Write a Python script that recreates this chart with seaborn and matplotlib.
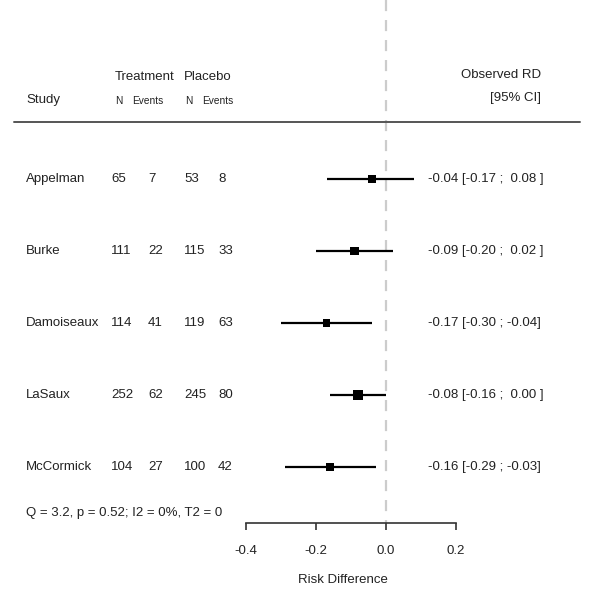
import numpy as np
import pandas as pd
import seaborn as sns
import matplotlib.pyplot as plt

# study data
studies = ['Appelman', 'Burke', 'Damoiseaux', 'LaSaux', 'McCormick']
trt_n = [65, 111, 114, 252, 104]
trt_events = [7, 22, 41, 62, 27]
pla_n = [53, 115, 119, 245, 100]
pla_events = [8, 33, 63, 80, 42]
rd = [-0.04, -0.09, -0.17, -0.08, -0.16]
ci_low = [-0.17, -0.20, -0.30, -0.16, -0.29]
ci_high = [0.08, 0.02, -0.04, 0.00, -0.03]
weight = [0.16, 0.19, 0.15, 0.36, 0.14]   # approx. inverse-variance weights
xticks = [-0.4, -0.2, 0.0, 0.2]
het_text = 'Q = 3.2, p = 0.52; I2 = 0%, T2 = 0'

df = pd.DataFrame({'study': studies, 'row': range(len(studies)),
                   'rd': rd, 'lo': ci_low, 'hi': ci_high, 'w': weight})

sns.set_style('white')
plt.rcParams['font.family'] = ['Liberation Sans', 'DejaVu Sans']
txt_col = '#222222'
fs = 9.5

W, H = 600, 605
fig = plt.figure(figsize=(W / 100, H / 100), dpi=100)
ax = fig.add_axes([0, 0, 1, 1])

# pixel helpers -> data coords
px = lambda p: (p - 386) / 350
py = lambda p: (p - 179) / 72
ax.set_xlim(px(0), px(W))
ax.set_ylim(py(H), py(0))

# reference line at zero
ax.plot([0, 0], [py(0), py(523)], color='#cccccc', lw=1.6, dashes=(5, 4), zorder=1)

# confidence intervals and point estimates
ax.hlines(df['row'], df['lo'], df['hi'], color='black', lw=1.6, zorder=2)
sns.scatterplot(data=df, x='rd', y='row', size='w', sizes=(28, 52), marker='s',
                color='black', edgecolor='black', linewidth=0, legend=False, ax=ax, zorder=3)

# axis
for s in ['top', 'right', 'left']:
    ax.spines[s].set_visible(False)
ax.spines['bottom'].set_position(('data', py(523)))
ax.spines['bottom'].set_bounds(xticks[0], xticks[-1])
ax.spines['bottom'].set_color('#333333')
ax.spines['bottom'].set_linewidth(1.2)
ax.set_xticks(xticks)
ax.set_xticklabels([f'{t:.1f}' for t in xticks])
ax.tick_params(axis='x', direction='out', length=5, width=1.2, color='#333333',
               pad=10.5, labelsize=fs, labelcolor=txt_col, bottom=True)
ax.set_yticks([])
ax.set_xlabel('')
ax.set_ylabel('')

# columns
for i, r in df.iterrows():
    y = r['row']
    ax.text(px(26), y, r['study'], fontsize=fs, color=txt_col, va='center')
    ax.text(px(111), y, str(trt_n[i]), fontsize=fs, color=txt_col, va='center')
    ax.text(px(148), y, str(trt_events[i]), fontsize=fs, color=txt_col, va='center')
    ax.text(px(184), y, str(pla_n[i]), fontsize=fs, color=txt_col, va='center')
    ax.text(px(218), y, str(pla_events[i]), fontsize=fs, color=txt_col, va='center')
    hi = f' {r["hi"]:.2f} ' if r['hi'] >= 0 else f'{r["hi"]:.2f}'
    ax.text(px(428), y, f'{r["rd"]:.2f} [{r["lo"]:.2f} ; {hi}]', fontsize=fs,
            color=txt_col, va='center')

# headers
ax.text(px(115), py(77), 'Treatment', fontsize=fs, color=txt_col, va='center')
ax.text(px(184), py(77), 'Placebo', fontsize=fs, color=txt_col, va='center')
ax.text(px(26), py(100), 'Study', fontsize=fs, color=txt_col, va='center')
for x0 in (115, 185):
    ax.text(px(x0), py(101), 'N', fontsize=7.3, color=txt_col, va='center')
    ax.text(px(x0 + 17), py(101), 'Events', fontsize=7.3, color=txt_col, va='center')
ax.text(px(541), py(75), 'Observed RD', fontsize=fs, color=txt_col, va='center', ha='right')
ax.text(px(541), py(98), '[95% CI]', fontsize=fs, color=txt_col, va='center', ha='right')
ax.plot([px(14), px(580)], [py(122), py(122)], color='#555555', lw=1.4)

ax.text(px(26), py(513), het_text, fontsize=fs, color=txt_col, va='center')
ax.text(px(343), py(580), 'Risk Difference', fontsize=fs, color=txt_col, va='center', ha='center')

fig.savefig('out.png', dpi=100, facecolor='white')
